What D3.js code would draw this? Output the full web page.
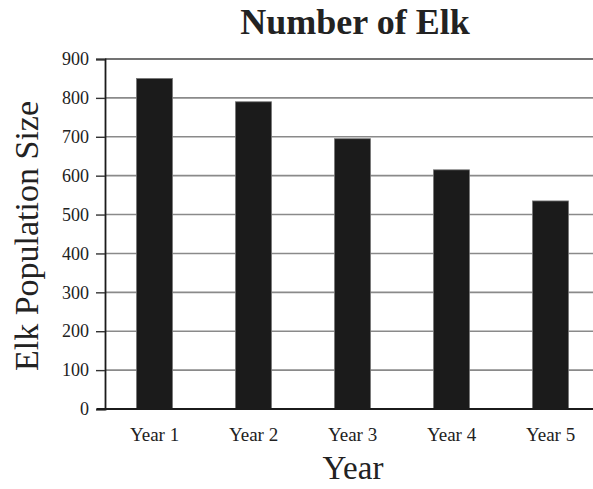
<!DOCTYPE html>
<html>
<head>
<meta charset="utf-8">
<script src="https://cdn.jsdelivr.net/npm/d3@7"></script>
<style>
  html, body { margin: 0; padding: 0; background: #fff; }
  svg { display: block; }
  text { font-family: "Liberation Serif", "Times New Roman", serif; fill: #222; }
</style>
</head>
<body>
<svg id="chart" width="593" height="489"></svg>
<script>
// Elk population by year
const categories = ["Year 1", "Year 2", "Year 3", "Year 4", "Year 5"];
const population = [850, 790, 695, 615, 535];
const yTicks = [0, 100, 200, 300, 400, 500, 600, 700, 800, 900];

const svg = d3.select("#chart");
const plotLeft = 105, plotRight = 600, plotTop = 59, plotBottom = 409;

const x = d3.scaleBand()
  .domain(categories)
  .range([plotLeft, plotRight])
  .paddingInner(0.636)
  .paddingOuter(0.318);

const y = d3.scaleLinear().domain([0, 900]).range([plotBottom, plotTop]);

// horizontal gridlines
svg.append("g")
  .selectAll("line")
  .data(yTicks.filter(d => d > 0))
  .join("line")
  .attr("x1", plotLeft).attr("x2", plotRight)
  .attr("y1", d => y(d)).attr("y2", d => y(d))
  .attr("stroke", d => d === 900 ? "#444" : "#8a8a8a")
  .attr("stroke-width", 1.6);

// bars
svg.append("g")
  .selectAll("rect")
  .data(categories.map((c, i) => ({ c, v: population[i] })))
  .join("rect")
  .attr("x", d => x(d.c))
  .attr("y", d => y(d.v))
  .attr("width", x.bandwidth())
  .attr("height", d => y(0) - y(d.v))
  .attr("fill", "#1b1b1b")
  .attr("stroke", "#777")
  .attr("stroke-width", 0.8);

// y axis
const yAxis = svg.append("g")
  .attr("transform", `translate(${plotLeft},0)`)
  .call(d3.axisLeft(y).tickValues(yTicks).tickSize(9).tickPadding(7));
yAxis.select(".domain").attr("stroke", "#1b1b1b").attr("stroke-width", 1.8);
yAxis.selectAll(".tick line").attr("stroke", "#333").attr("stroke-width", 1.4);
yAxis.selectAll(".tick text")
  .attr("font-family", "Liberation Serif, serif")
  .attr("font-size", 18).attr("fill", "#333");

// x axis
const xAxis = svg.append("g")
  .attr("transform", `translate(0,${plotBottom})`)
  .call(d3.axisBottom(x).tickSize(0).tickPadding(19));
xAxis.select(".domain").attr("d", `M${plotLeft - 8},0H${plotRight}`)
  .attr("stroke", "#1b1b1b").attr("stroke-width", 1.8);
xAxis.selectAll(".tick text")
  .attr("font-family", "Liberation Serif, serif")
  .attr("font-size", 19).attr("fill", "#333");

// titles
svg.append("text")
  .attr("x", 355).attr("y", 34)
  .attr("text-anchor", "middle")
  .attr("font-size", 36).attr("font-weight", "bold")
  .text("Number of Elk");

svg.append("text")
  .attr("transform", "translate(38,236) rotate(-90)")
  .attr("text-anchor", "middle")
  .attr("font-size", 34)
  .text("Elk Population Size");

svg.append("text")
  .attr("x", 353).attr("y", 479)
  .attr("text-anchor", "middle")
  .attr("font-size", 33)
  .text("Year");
</script>
</body>
</html>
